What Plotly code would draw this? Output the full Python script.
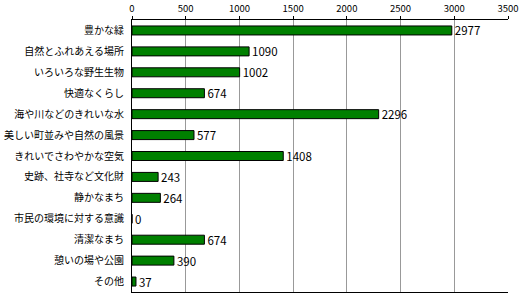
import plotly.graph_objects as go

categories = ["豊かな緑", "自然とふれあえる場所", "いろいろな野生生物", "快適なくらし",
              "海や川などのきれいな水", "美しい町並みや自然の風景", "きれいでさわやかな空気",
              "史跡、社寺など文化財", "静かなまち", "市民の環境に対する意識",
              "清潔なまち", "憩いの場や公園", "その他"]
values = [2977, 1090, 1002, 674, 2296, 577, 1408, 243, 264, 0, 674, 390, 37]
tick_vals = [0, 500, 1000, 1500, 2000, 2500, 3000, 3500]

fig = go.Figure(go.Bar(
    x=values, y=categories, orientation="h",
    marker=dict(color="#008000", line=dict(color="black", width=1)),
    width=0.43,
    text=[str(v) for v in values], textposition="outside",
    constraintext="none",
    textfont=dict(family="Noto Sans CJK JP", size=11.5, color="black"),
    cliponaxis=False,
))
fig.update_layout(
    width=520, height=294,
    margin=dict(l=132, r=9, t=20, b=1),
    paper_bgcolor="white", plot_bgcolor="white",
    showlegend=False,
    font=dict(family="Noto Sans CJK JP", color="black"),
    xaxis=dict(side="top", range=[0, 3500], tickvals=tick_vals,
               showgrid=True, gridcolor="#999999", gridwidth=1,
               showline=True, linecolor="black", linewidth=1, mirror=True,
               ticks="outside", ticklen=3, tickcolor="black",
               tickfont=dict(size=9.5), zeroline=False,
               ticklabeloverflow="allow"),
    yaxis=dict(autorange="reversed", showline=True, linecolor="black", linewidth=1,
               ticks="", tickfont=dict(size=10), ticklabelstandoff=5),
)
fig.write_html("out.html")
